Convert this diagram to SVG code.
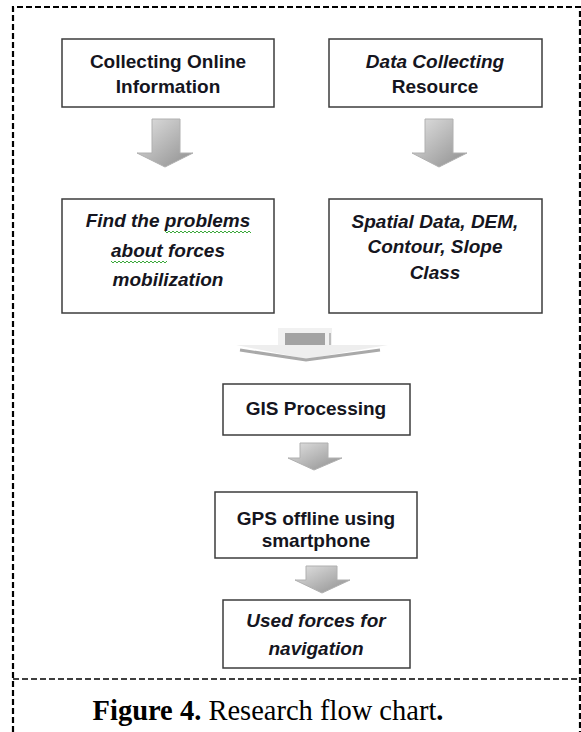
<svg xmlns="http://www.w3.org/2000/svg" width="581" height="732" viewBox="0 0 581 732">
<style>
.box{fill:#fff;stroke:#3c3c3c;stroke-width:1.5}
.t{font-family:"Liberation Sans",Arial,sans-serif;font-size:19px;font-weight:bold;fill:#151520;text-anchor:middle}
.i{font-style:italic}
.arrow{fill:url(#ag);stroke:#b0b0b0;stroke-width:1}
.cap{font-family:"Liberation Serif","Times New Roman",serif;font-size:28.5px;fill:#000;text-anchor:middle}
.wavy{fill:none;stroke:#3aa83a;stroke-width:1}
</style>
<defs>
<linearGradient id="ag" x1="0" y1="0" x2="1" y2="1">
<stop offset="0" stop-color="#e2e2e2"/>
<stop offset="1" stop-color="#8e8e8e"/>
</linearGradient>
</defs>
<rect x="0" y="0" width="581" height="732" fill="#fff"/>
<g id="frame" fill="none" stroke="#000">
<path d="M13,732 V7 H580 V732" stroke-width="2.2" stroke-dasharray="6,3"/>
<path d="M13,679 H580" stroke-width="1.5" stroke-dasharray="6,3"/>
</g>
<g id="connectors">
<path class="arrow" d="M152,119 H180 V153 H193 L165,167 L137,153 H152 Z"/>
<path class="arrow" d="M425,119 H453 V153 H467 L439,167 L412,153 H425 Z"/>
<rect x="278" y="328" width="54" height="18" fill="#f1f1f1"/>
<rect x="285" y="333" width="40" height="17" fill="#a3a3a3"/>
<path d="M330,333 V345" stroke="#9a9a9a" stroke-width="1.2"/>
<polygon points="236,345 388,345 306,359" fill="#eeeeee"/>
<polyline points="240,350 306,360 380,350" fill="none" stroke="#a9a9a9" stroke-width="3"/>
<path class="arrow" d="M300,443 H328 V458 H342 L314,470 L288,458 H300 Z"/>
<path class="arrow" d="M306,566 H337 V580 H350 L322,593 L295,580 H306 Z"/>
</g>
<g id="n1">
<rect class="box" x="62" y="39" width="212" height="68"/>
<text class="t" x="168" y="68">Collecting Online</text>
<text class="t" x="168" y="93">Information</text>
</g>
<g id="n2">
<rect class="box" x="329" y="39" width="213" height="68"/>
<text class="t i" x="435" y="68">Data Collecting</text>
<text class="t" x="435" y="93">Resource</text>
</g>
<g id="n3">
<rect class="box" x="62" y="199" width="212" height="114"/>
<text class="t i" x="168" y="227">Find the problems</text>
<text class="t i" x="168" y="257">about forces</text>
<text class="t i" x="168" y="286">mobilization</text>
<path class="wavy" d="M165,231 l2,2 l2,-2 l2,2 l2,-2 l2,2 l2,-2 l2,2 l2,-2 l2,2 l2,-2 l2,2 l2,-2 l2,2 l2,-2 l2,2 l2,-2 l2,2 l2,-2 l2,2 l2,-2 l2,2 l2,-2 l2,2 l2,-2 l2,2 l2,-2 l2,2 l2,-2 l2,2 l2,-2 l2,2 l2,-2 l2,2 l2,-2 l2,2 l2,-2 l2,2 l2,-2 l2,2 l2,-2 l2,2 l2,-2 l2,2"/>
<path class="wavy" d="M111,261 l2,2 l2,-2 l2,2 l2,-2 l2,2 l2,-2 l2,2 l2,-2 l2,2 l2,-2 l2,2 l2,-2 l2,2 l2,-2 l2,2 l2,-2 l2,2 l2,-2 l2,2 l2,-2 l2,2 l2,-2 l2,2 l2,-2 l2,2 l2,-2 l2,2 l2,-2"/>
</g>
<g id="n4">
<rect class="box" x="329" y="199" width="213" height="114"/>
<text class="t i" x="435" y="228">Spatial Data, DEM,</text>
<text class="t i" x="435" y="253">Contour, Slope</text>
<text class="t i" x="435" y="279">Class</text>
</g>
<g id="n5">
<rect class="box" x="223" y="384" width="187" height="51"/>
<text class="t" x="316" y="415">GIS Processing</text>
</g>
<g id="n6">
<rect class="box" x="215" y="492" width="202" height="66"/>
<text class="t" x="316" y="525">GPS offline using</text>
<text class="t" x="316" y="547">smartphone</text>
</g>
<g id="n7">
<rect class="box" x="223" y="600" width="187" height="68"/>
<text class="t i" x="316" y="627">Used forces for</text>
<text class="t i" x="316" y="655">navigation</text>
</g>
<g id="caption">
<text class="cap" x="268" y="720"><tspan font-weight="bold">Figure 4.</tspan> Research flow chart<tspan font-weight="bold">.</tspan></text>
</g>
</svg>
